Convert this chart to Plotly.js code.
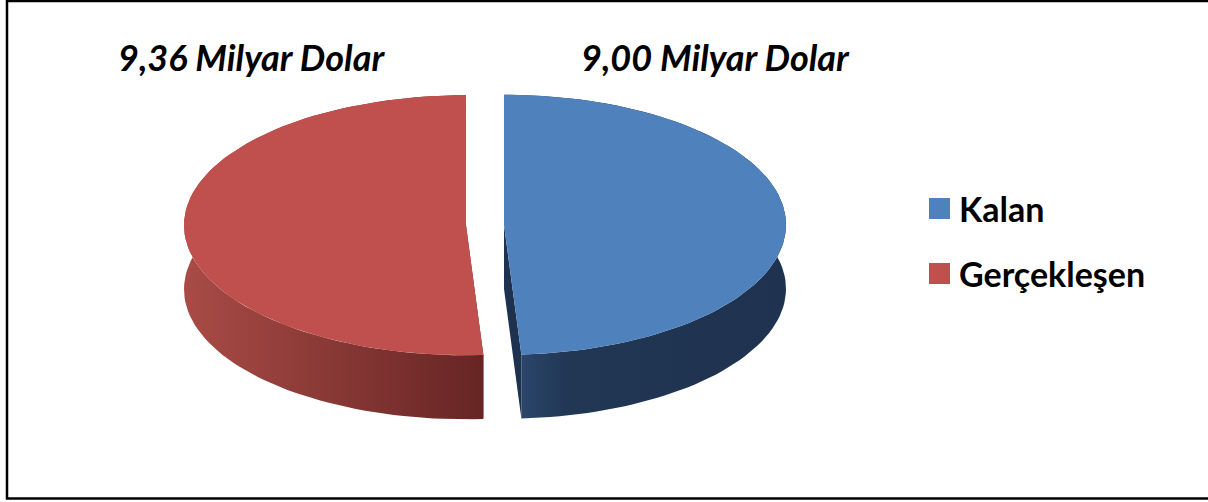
<!DOCTYPE html>
<html>
<head>
<meta charset="utf-8">
<script src="https://cdn.plot.ly/plotly-3.0.1.min.js"></script>
<style>html,body{margin:0;padding:0;background:#fff;}#chart{width:1208px;height:502px;}</style>
</head>
<body>
<div id="chart"></div>
<script>
// ---- data ----
var categories = ['Kalan', 'Gerçekleşen'];
var values = [9.00, 9.36];           // Milyar Dolar
var unitLabel = 'Milyar Dolar';

// ---- styling (not data) ----
var topColors = ['#4f81bd', '#c0504d'];
var wallScales = [
  [[0, '#2f4c73'], [0.22, '#213754'], [1, '#1f3250']],
  [[0, '#a94b46'], [1, '#662524']]
];
var cutColors = ['#1e3250', '#6a2827'];
var labelPos = [[715, 57], [251, 57]];   // pixel positions of value labels

var W = 1208, H = 502;
var cx = 485, cy = 225, rx = 282, ry = 130, depth = 64, pull = 19;

function fmt(v) { return v.toFixed(2).replace('.', ',') + ' ' + unitLabel; }

var total = values.reduce(function (a, b) { return a + b; }, 0);
var traces = [];
var a0 = 0;

function pt(th, ox, oy, dz) {
  return [cx + ox + rx * Math.sin(th), cy + oy - ry * Math.cos(th) + dz];
}

values.forEach(function (v, i) {
  var sweep = v / total * 2 * Math.PI;
  var a1 = a0 + sweep;
  var mid = (a0 + a1) / 2;
  var ox = pull * Math.sin(mid);
  var oy = -pull * Math.cos(mid) * ry / rx;
  var n = 90;
  var k, th, p;

  // radial cut faces
  [a0, a1].forEach(function (ang) {
    var c = [cx + ox, cy + oy];
    var e = pt(ang, ox, oy, 0);
    traces.push({
      type: 'scatter', mode: 'lines', fill: 'toself',
      x: [c[0], e[0], e[0], c[0], c[0]],
      y: [c[1], e[1], e[1] + depth, c[1] + depth, c[1]],
      fillcolor: cutColors[i], line: {width: 0, color: cutColors[i]},
      hoverinfo: 'skip', showlegend: false
    });
  });

  // outer wall
  var wx = [], wy = [];
  for (k = 0; k <= n; k++) { th = a0 + sweep * k / n; p = pt(th, ox, oy, 0); wx.push(p[0]); wy.push(p[1]); }
  for (k = n; k >= 0; k--) { th = a0 + sweep * k / n; p = pt(th, ox, oy, depth); wx.push(p[0]); wy.push(p[1]); }
  wx.push(wx[0]); wy.push(wy[0]);
  traces.push({
    type: 'scatter', mode: 'lines', fill: 'toself',
    x: wx, y: wy,
    fillgradient: {type: 'horizontal', colorscale: wallScales[i]},
    fillcolor: wallScales[i][1][1],
    line: {width: 0, color: 'rgba(0,0,0,0)'},
    hoverinfo: 'skip', showlegend: false
  });

  // top face
  var tx = [cx + ox], ty = [cy + oy];
  for (k = 0; k <= n; k++) { th = a0 + sweep * k / n; p = pt(th, ox, oy, 0); tx.push(p[0]); ty.push(p[1]); }
  tx.push(cx + ox); ty.push(cy + oy);
  traces.push({
    type: 'scatter', mode: 'lines', fill: 'toself',
    x: tx, y: ty, name: categories[i],
    fillcolor: topColors[i], line: {width: 0, color: topColors[i]},
    hoverinfo: 'name', showlegend: false
  });

  a0 = a1;
});

var annotations = values.map(function (v, i) {
  return {
    x: labelPos[i][0], y: labelPos[i][1], xref: 'x', yref: 'y',
    text: fmt(v), showarrow: false, xanchor: 'center', yanchor: 'middle',
    font: {family: 'Lato, sans-serif', size: 36, color: '#000', weight: 700, style: 'italic'}
  };
});

var shapes = [{
  type: 'rect', xref: 'x', yref: 'y', x0: 7, x1: 1212, y0: 1, y1: 498.5,
  line: {color: '#000', width: 2.5}, fillcolor: 'rgba(0,0,0,0)', layer: 'below'
}];

var legX = 929, legY0 = 208.5, legDy = 65, sq = 21;
categories.forEach(function (c, i) {
  var y = legY0 + i * legDy;
  shapes.push({
    type: 'rect', xref: 'x', yref: 'y', x0: legX, x1: legX + sq, y0: y - sq / 2, y1: y + sq / 2,
    fillcolor: topColors[i], line: {width: 0}
  });
  annotations.push({
    x: legX + sq + 7, y: y, xref: 'x', yref: 'y', text: c, showarrow: false,
    xanchor: 'left', yanchor: 'middle',
    font: {family: 'Lato, sans-serif', size: 34, color: '#000', weight: 700}
  });
});

var layout = {
  width: W, height: H,
  margin: {l: 0, r: 0, t: 0, b: 0, pad: 0},
  paper_bgcolor: '#fff', plot_bgcolor: '#fff',
  xaxis: {range: [0, W], visible: false, fixedrange: true},
  yaxis: {range: [H, 0], visible: false, fixedrange: true},
  showlegend: false,
  shapes: shapes,
  annotations: annotations
};

Plotly.newPlot('chart', traces, layout, {displayModeBar: false, staticPlot: true});
</script>
</body>
</html>
